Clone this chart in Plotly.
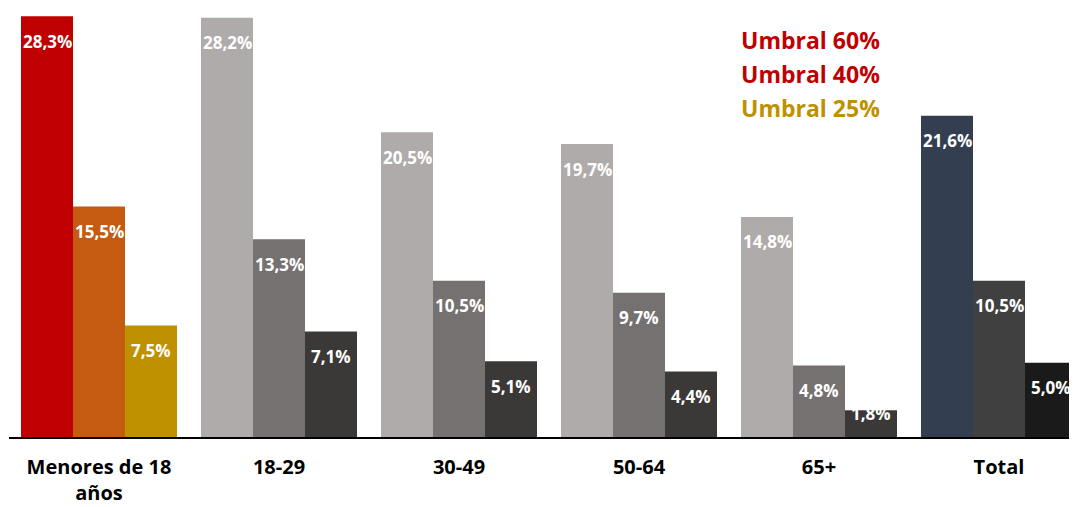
import plotly.graph_objects as go

categories = ["Menores de 18<br>años", "18-29", "30-49", "50-64", "65+", "Total"]
umbral_60 = [28.3, 28.2, 20.5, 19.7, 14.8, 21.6]
umbral_40 = [15.5, 13.3, 10.5, 9.7, 4.8, 10.5]
umbral_25 = [7.5, 7.1, 5.1, 4.4, 1.8, 5.0]
series_names = ["Umbral 60%", "Umbral 40%", "Umbral 25%"]

colors_60 = ["#C00000", "#AFABAB", "#AFABAB", "#AFABAB", "#AFABAB", "#333F50"]
colors_40 = ["#C55A11", "#767171", "#767171", "#767171", "#767171", "#404040"]
colors_25 = ["#BF9000", "#3B3838", "#3B3838", "#3B3838", "#3B3838", "#1A1A1A"]
legend_colors = ["#C00000", "#C00000", "#BF9000"]

FONT = "Open Sans"
W, H = 1069, 499
M_L, M_R, M_T, M_B = 1, 0, 0, 70
plot_h = H - M_T - M_B
plot_w = W - M_L - M_R
PX_PER_UNIT = 14.87
Y_MAX = plot_h / PX_PER_UNIT
BARGAP = 0.1333
n_series = 3
bar_w = (1 - BARGAP) / n_series
x_max = -0.5 + plot_w / 180

fig = go.Figure()
all_series = [umbral_60, umbral_40, umbral_25]
all_colors = [colors_60, colors_40, colors_25]
xs = list(range(len(categories)))
for s, (vals, cols, name) in enumerate(zip(all_series, all_colors, series_names)):
    fig.add_trace(go.Bar(x=xs, y=vals, name=name, marker=dict(color=cols, line=dict(width=0)),
                         showlegend=False, hoverinfo="skip"))

annotations = []
for s, vals in enumerate(all_series):
    off = (s - (n_series - 1) / 2) * bar_w
    for i, v in enumerate(vals):
        shift = min(25, v * PX_PER_UNIT - 23)
        annotations.append(dict(
            x=i + off, y=v, xref="x", yref="y", text=f"{v:.1f}%".replace(".", ","),
            showarrow=False, yanchor="middle", xanchor="center", yshift=-shift,
            font=dict(family=FONT, size=17, color="white", weight="bold")))

legend_px = [(874, 32), (874, 66), (874, 100)]
for (name, col), (px, py) in zip(zip(series_names, legend_colors), legend_px):
    annotations.append(dict(
        x=(px - M_L) / plot_w, y=1 - (py - M_T) / plot_h, xref="paper", yref="paper",
        text=name, showarrow=False, xanchor="right", yanchor="middle",
        font=dict(family=FONT, size=23, color=col, weight="bold")))

fig.update_layout(
    width=W, height=H, margin=dict(l=M_L, r=M_R, t=M_T, b=M_B, autoexpand=False),
    barmode="group", bargap=BARGAP, bargroupgap=0,
    plot_bgcolor="white", paper_bgcolor="white",
    annotations=annotations,
    xaxis=dict(range=[-0.5, x_max], tickmode="array", tickvals=xs, ticktext=categories,
               showline=True, linecolor="black", linewidth=2, showgrid=False, zeroline=False,
               ticks="outside", ticklen=11, tickcolor="rgba(0,0,0,0)", automargin=False,
               tickfont=dict(family=FONT, size=20, color="black", weight="bold")),
    yaxis=dict(range=[0, Y_MAX], visible=False, showgrid=False, zeroline=False),
)

fig.write_html("out.html")
